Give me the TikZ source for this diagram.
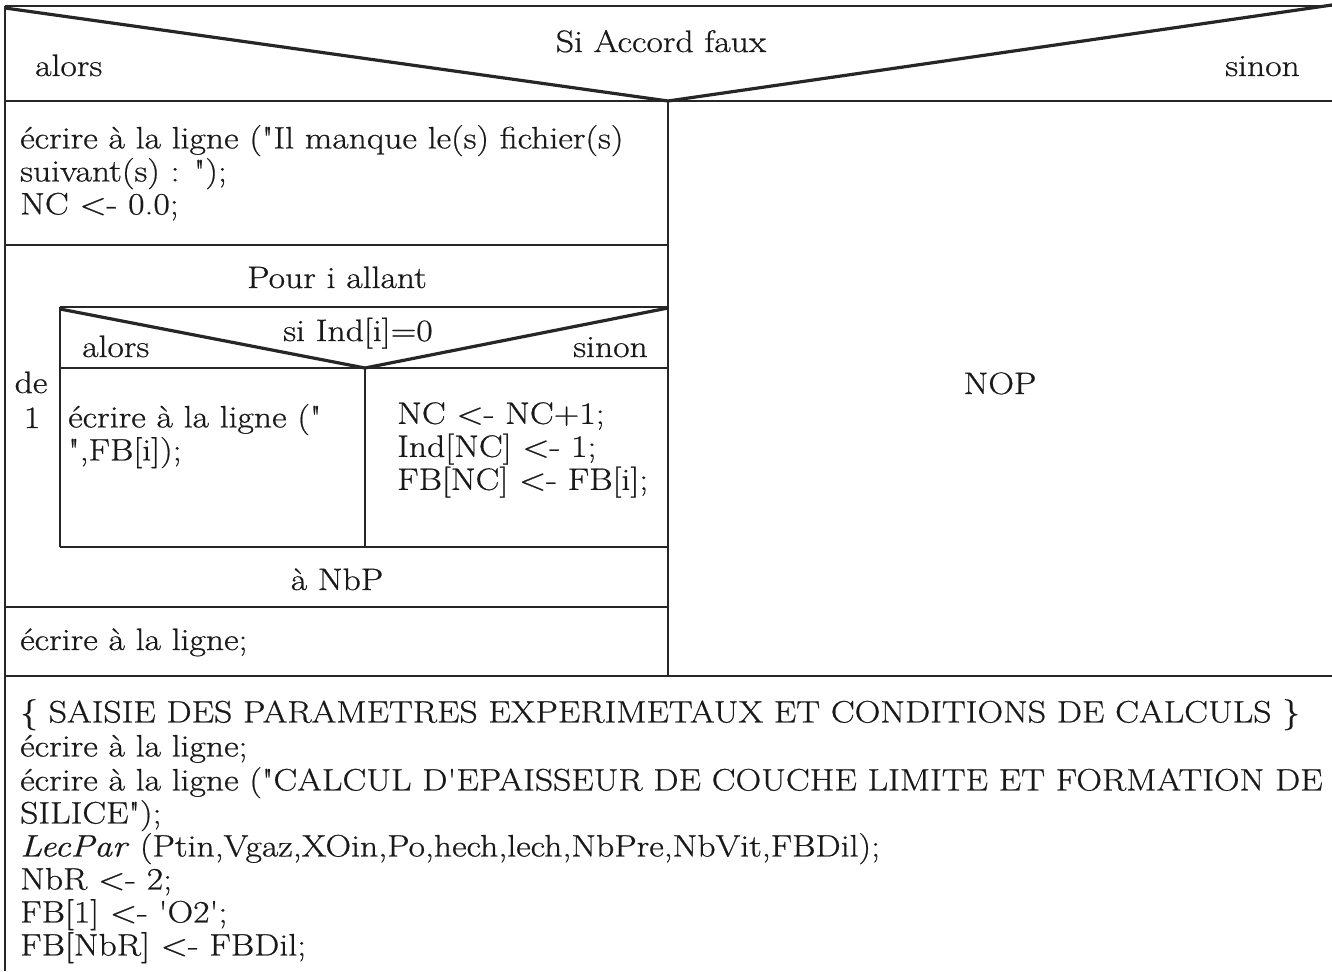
\documentclass[tikz,border=0pt]{standalone}
\usepackage{fontspec}
\setmainfont{Latin Modern Roman}[Ligatures=TeXOff, FakeStretch=1.15, FakeBold=0.7]
\begin{document}
\begin{tikzpicture}[x=1pt,y=-1pt,
  frame/.style={line width=2.4pt, draw=black!85},
  thin/.style={line width=1.8pt, draw=black!85},
  diag/.style={line width=3.2pt, draw=black!85, line join=miter},
  txt/.style={inner sep=0pt, font=\fontsize{31}{33}\selectfont, text=black!90},
  ltxt/.style={txt, anchor=base west, align=left},
]
\useasboundingbox (0,0) rectangle (1332,971);
\clip (0,0) rectangle (1332,971);
% outer frame
\coordinate (tl) at (5,6);
\coordinate (tr) at (1332,6);
\coordinate (apex) at (668,101);
\coordinate (bl) at (5,971);
\draw[frame] (tl) -- (tr);
\draw[frame] (tl) -- (bl);
\draw[diag] (5,8) -- (apex) -- (1332,5);
\draw[frame] (5,101) -- (1332,101);
\draw[frame] (668,101) -- (668,676);
\draw[frame] (5,245) -- (668,245);
% inner box
\coordinate (itl) at (60,307);
\coordinate (itr) at (668,307);
\coordinate (iapex) at (365,368);
\draw[frame] (itl) -- (itr);
\draw[frame] (60,307) -- (60,547);
\draw[diag] (60,309) -- (iapex) -- (668,308);
\draw[frame] (60,368) -- (668,368);
\draw[thin] (365,368) -- (365,547);
\draw[frame] (60,547) -- (668,547);
\draw[frame] (5,607) -- (668,607);
\draw[frame] (5,676) -- (1332,676);

% texts
\node[txt, anchor=base] (si) at (661,52) {Si Accord faux};
\node[ltxt] (alors) at (35,76) {alors};
\node[txt, anchor=base east] (sinon) at (1300,76) {sinon};
\node[ltxt, anchor=north west] (t1) at (20,125) {écrire à la ligne ("Il manque le(s) fichier(s)\\suivant(s) : ");\\NC <- 0.0;};
\node[txt, anchor=base] (pour) at (337,288) {Pour i allant};
\node[txt, anchor=base] (siind) at (358,341) {si Ind[i]=0};
\node[ltxt] (alors2) at (82,357) {alors};
\node[txt, anchor=base east] (sinon2) at (648,357) {sinon};
\node[txt, anchor=base] (de) at (31,393) {de};
\node[txt, anchor=base] (un) at (32,428) {1};
\node[ltxt, anchor=north west] (t2) at (68,404) {écrire à la ligne ("\\",FB[i]);};
\node[ltxt, anchor=north west] (t3) at (397,402) {NC <- NC+1;\\Ind[NC] <- 1;\\FB[NC] <- FB[i];};
\node[txt, anchor=base] (nbp) at (337,590) {à NbP};
\node[ltxt] (t4) at (20,650) {écrire à la ligne;};
\node[txt, anchor=base] (nop) at (1000,394) {NOP};
\node[ltxt, anchor=north west] (t5) at (20,699) {\{ SAISIE DES PARAMETRES EXPERIMETAUX ET CONDITIONS DE CALCULS \}\\[1pt]
écrire à la ligne;\\[1pt]
écrire à la ligne ("CALCUL D'EPAISSEUR DE COUCHE LIMITE ET FORMATION DE\\
SILICE");\\
\textit{LecPar} (Ptin,Vgaz,XOin,Po,hech,lech,NbPre,NbVit,FBDil);\\
NbR <- 2;\\
FB[1] <- 'O2';\\
FB[NbR] <- FBDil;};
\end{tikzpicture}
\end{document}
